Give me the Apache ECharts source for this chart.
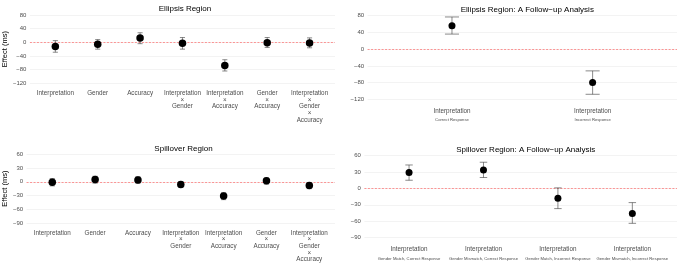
<!DOCTYPE html>
<html><head><meta charset="utf-8">
<script src="https://cdn.jsdelivr.net/npm/echarts@6/dist/echarts.min.js"></script>
<style>html,body{margin:0;padding:0;background:#fff}#c{width:677px;height:263px}</style>
</head><body><div id="c"></div>
<script>
// ---- Data ----
const leftCats = ['Interpretation','Gender','Accuracy','Interpretation\n×\nGender','Interpretation\n×\nAccuracy','Gender\n×\nAccuracy','Interpretation\n×\nGender\n×\nAccuracy'];
const ellipsisEst = [-12, -6, 13, -3, -68, -1, -2];
const ellipsisLo  = [-29, -20, -4, -20, -84, -15, -16];
const ellipsisHi  = [5, 8, 28, 14, -51, 14, 13];
const spilloverEst = [-1, 5, 4, -6, -31, 2, -8];
const spilloverLo  = [-9, -3, -3, -12, -39, -5, -15];
const spilloverHi  = [7, 12, 11, 0, -24, 8, -2];
const ellFollowCats = ['Correct Response','Incorrect Response'];
const ellFollowEst = [56, -80];
const ellFollowLo  = [36, -108];
const ellFollowHi  = [77, -52];
const spFollowCats = ['Gender Match, Correct Response','Gender Mismatch, Correct Response','Gender Match, Incorrect Response','Gender Mismatch, Incorrect Response'];
const spFollowEst = [29, 34, -18, -46];
const spFollowLo  = [15, 20, -37, -64];
const spFollowHi  = [43, 48, 1, -26];
const ticksEllipsis = [-120, 80, 40];
const ticksSpill = [-90, 60, 30];

const FONT = 'Liberation Sans, Arial, sans-serif';
const panels = [
  {title:'Ellipsis Region', grid:{left:25, top:15, width:310, height:68.3}, cats:leftCats, est:ellipsisEst, lo:ellipsisLo, hi:ellipsisHi, ticks:ticksEllipsis, yname:'Effect (ms)', nameGap:16, hw:0.06, sym:7.5, follow:false, margin:6.5},
  {title:'Spillover Region', grid:{left:22, top:154.3, width:313, height:68.7}, cats:leftCats, est:spilloverEst, lo:spilloverLo, hi:spilloverHi, ticks:ticksSpill, yname:'Effect (ms)', nameGap:13, hw:0.06, sym:7.5, follow:false, margin:6.5},
  {title:'Ellipsis Region: A Follow\u2212up Analysis', grid:{left:367.6, top:15.7, width:309.4, height:83.6}, cats:ellFollowCats, est:ellFollowEst, lo:ellFollowLo, hi:ellFollowHi, ticks:ticksEllipsis, yname:'', nameGap:0, hw:0.05, sym:7, follow:true, margin:7.5},
  {title:'Spillover Region: A Follow\u2212up Analysis', grid:{left:364.4, top:155.7, width:312.6, height:83.3}, cats:spFollowCats, est:spFollowEst, lo:spFollowLo, hi:spFollowHi, ticks:ticksSpill, yname:'', nameGap:0, hw:0.05, sym:7, follow:true, margin:7.5}
];

const option = {animation:false, title:[], grid:[], xAxis:[], yAxis:[], series:[]};
panels.forEach((p, k) => {
  const n = p.cats.length;
  option.grid.push(Object.assign({containLabel:false}, p.grid));
  option.title.push({text:p.title, left:p.grid.left + p.grid.width/2, top: p.grid.top - 15, textAlign:'center',
    textStyle:{fontFamily:FONT, fontSize:8, fontWeight:'normal', color:'#000'}});
  option.xAxis.push({type:'value', gridIndex:k, min:0.4, max:n+0.6, interval:0.2,
    axisLine:{show:false}, axisTick:{show:false}, splitLine:{show:false},
    axisLabel:{show:true, margin:p.margin, color:'#4d4d4d', fontFamily:FONT, fontSize:6.3, lineHeight:6.7,
      showMinLabel:false, showMaxLabel:false,
      formatter: v => {
        const i = Math.round(v);
        if (Math.abs(v - i) > 1e-6 || i < 1 || i > n) return '';
        if (p.follow) return '{a|Interpretation}\n{b|' + p.cats[i-1] + '}';
        return p.cats[i-1];
      },
      rich: p.follow ? {a:{fontFamily:FONT, fontSize:6.3, color:'#4d4d4d', lineHeight:9}, b:{fontFamily:FONT, fontSize:4.2, color:'#4d4d4d', lineHeight:9}} : undefined
    }});
  option.yAxis.push({type:'value', gridIndex:k, min:p.ticks[0], max:p.ticks[1], interval:p.ticks[2],
    name:p.yname, nameLocation:'middle', nameGap:p.nameGap, nameRotate:90,
    nameTextStyle:{fontFamily:FONT, fontSize:7.5, color:'#000'},
    axisLine:{show:false}, axisTick:{show:false},
    splitLine:{show:true, lineStyle:{color:'#ebebeb', width:0.6}},
    axisLabel:{margin:3.5, color:'#4d4d4d', fontFamily:FONT, fontSize:6, formatter: v => String(v).replace('-', '\u2212')}});
  const barData = p.est.map((e, i) => [i+1, p.lo[i], p.hi[i]]);
  option.series.push({type:'custom', xAxisIndex:k, yAxisIndex:k, data:barData, z:3,
    renderItem:(params, api) => {
      const x = api.value(0), lo = api.value(1), hi = api.value(2);
      const t = api.coord([x, hi]), b = api.coord([x, lo]);
      const l = api.coord([x - p.hw, hi])[0], r = api.coord([x + p.hw, hi])[0];
      const st = {stroke:'#3a3a3a', lineWidth:0.6, fill:null};
      return {type:'group', children:[
        {type:'line', shape:{x1:t[0], y1:t[1], x2:b[0], y2:b[1]}, style:st},
        {type:'line', shape:{x1:l, y1:t[1], x2:r, y2:t[1]}, style:st},
        {type:'line', shape:{x1:l, y1:b[1], x2:r, y2:b[1]}, style:st}
      ]};
    }});
  option.series.push({type:'scatter', xAxisIndex:k, yAxisIndex:k, z:4, symbol:'circle', symbolSize:p.sym,
    itemStyle:{color:'#000', opacity:1}, data:p.est.map((e, i) => [i+1, e]),
    markLine:{silent:true, symbol:'none', label:{show:false}, data:[{yAxis:0}], z:2,
      lineStyle:{color:'#ff6b6b', type:[2,1.5], width:0.7}}});
});
const chart = echarts.init(document.getElementById('c'), null, {renderer:'canvas'});
chart.setOption(option);
</script></body></html>
